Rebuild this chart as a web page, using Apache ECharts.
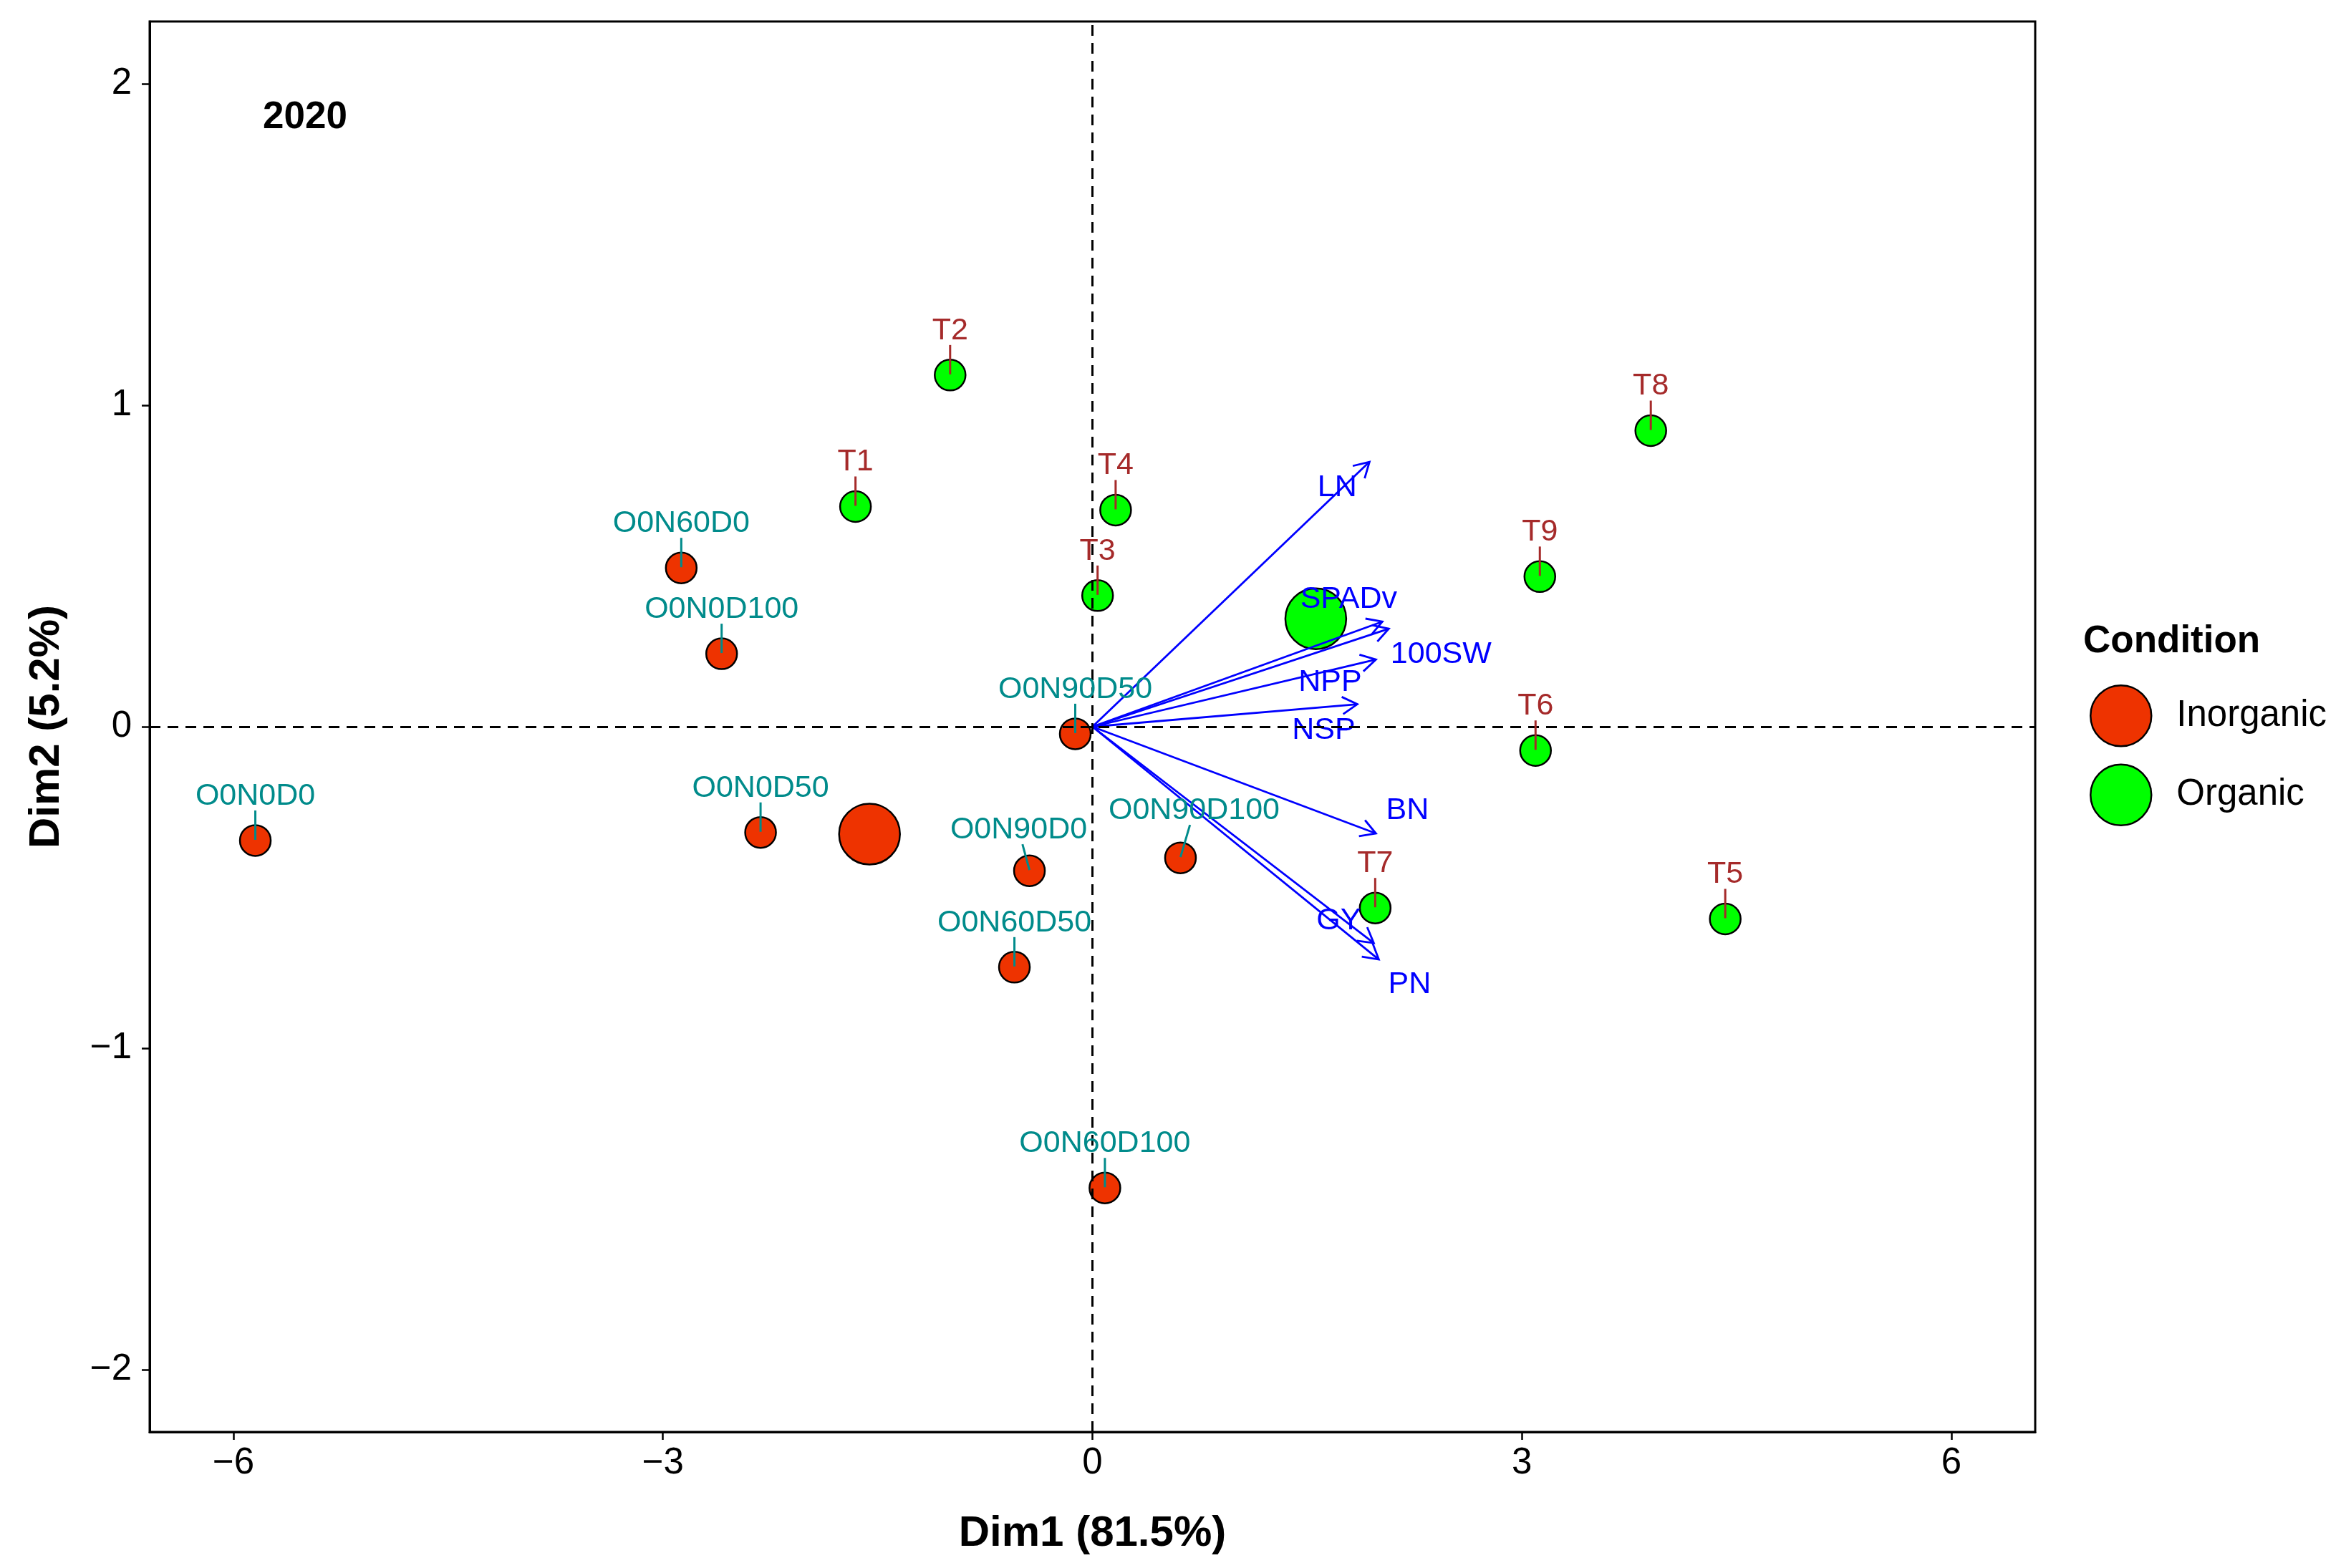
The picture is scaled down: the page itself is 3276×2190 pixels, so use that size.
<!DOCTYPE html>
<html>
<head>
<meta charset="utf-8">
<script src="https://cdn.jsdelivr.net/npm/echarts@6/dist/echarts.min.js"></script>
<style>
html,body{margin:0;padding:0;background:#fff;}
#chart{width:3276px;height:2190px;}
</style>
</head>
<body>
<div id="chart"></div>
<script>
// ---- data ----
const inorgNames = ['O0N0D0','O0N0D50','O0N0D100','O0N60D0','O0N60D50','O0N60D100','O0N90D0','O0N90D50','O0N90D100'];
const inorgX = [-5.847, -2.318, -2.59, -2.872, -0.545, 0.087, -0.44, -0.12, 0.615];
const inorgY = [-0.354, -0.329, 0.227, 0.494, -0.748, -1.435, -0.448, -0.022, -0.408];

const orgNames = ['T1','T2','T3','T4','T5','T6','T7','T8','T9'];
const orgX = [-1.655, -0.994, 0.036, 0.162, 4.42, 3.095, 1.975, 3.90, 3.125];
const orgY = [0.685, 1.094, 0.408, 0.674, -0.598, -0.074, -0.564, 0.921, 0.467];

const groupNames = ['Inorganic','Organic'];
const centroidX = [-1.557, 1.56];
const centroidY = [-0.334, 0.336];

const varNames = ['LN','SPADv','100SW','NPP','NSP','BN','GY','PN'];
const varX = [1.935, 2.025, 2.07, 1.98, 1.85, 1.98, 1.965, 2.0];
const varY = [0.824, 0.327, 0.305, 0.209, 0.07, -0.332, -0.673, -0.724];

const xTicks = [-6, -3, 0, 3, 6];
const yTicks = [-2, -1, 0, 1, 2];

// ---- styles (pixel offsets for labels) ----
const FONT = 'Liberation Sans, Arial, sans-serif';
const varLabelOffset = {LN:[-45,36], SPADv:[-47,-31], '100SW':[73,36], NPP:[-64,32], NSP:[-47,37], BN:[44,-32], GY:[-49,-31], PN:[43,35]};
const pointLabelOffset = {O0N90D0:[-15,-57], O0N90D100:[19,-66]};
const defaultLabelOffset = [0,-62];
const RED = '#EE3300', GREEN = '#00FF00', TEAL = '#008B8B', BROWN = '#A52A2A', BLUE = '#0000FF';

function pointData(xs, ys, cx, cy) {
  const d = xs.map((x, i) => [x, ys[i]]);
  d.push({value: [cx, cy], symbolSize: 85});
  return d;
}

const labelData = [];
inorgNames.forEach((n, i) => labelData.push([inorgX[i], inorgY[i], n, 0]));
orgNames.forEach((n, i) => labelData.push([orgX[i], orgY[i], n, 1]));

const arrowData = varNames.map((n, i) => [varX[i], varY[i], n]);

const chart = echarts.init(document.getElementById('chart'));
const minusFmt = v => String(v).replace('-', '\u2212');

chart.setOption({
  animation: false,
  backgroundColor: '#fff',
  grid: {left: 209, right: 434, top: 30, bottom: 190, show: true, borderColor: '#000', borderWidth: 3, backgroundColor: 'transparent'},
  xAxis: {
    type: 'value', min: -6.585, max: 6.585,
    name: 'Dim1 (81.5%)', nameLocation: 'middle', nameGap: 112,
    nameTextStyle: {fontFamily: FONT, fontSize: 60, fontWeight: 'bold', color: '#000'},
    axisLine: {show: true, onZero: false, lineStyle: {color: '#000', width: 3}},
    axisTick: {show: true, length: 11, lineStyle: {color: '#000', width: 2.5}, customValues: xTicks},
    axisLabel: {fontFamily: FONT, fontSize: 51, color: '#000', margin: 18, customValues: xTicks, formatter: minusFmt},
    splitLine: {show: false}
  },
  yAxis: {
    type: 'value', min: -2.194, max: 2.194,
    name: 'Dim2 (5.2%)', nameLocation: 'middle', nameGap: 114,
    nameTextStyle: {fontFamily: FONT, fontSize: 60, fontWeight: 'bold', color: '#000'},
    axisLine: {show: true, onZero: false, lineStyle: {color: '#000', width: 3}},
    axisTick: {show: true, length: 11, lineStyle: {color: '#000', width: 2.5}, customValues: yTicks},
    axisLabel: {fontFamily: FONT, fontSize: 51, color: '#000', margin: 25, customValues: yTicks, formatter: minusFmt},
    splitLine: {show: false}
  },
  legend: {
    data: groupNames, orient: 'vertical', left: 2913, top: 951,
    itemWidth: 85, itemHeight: 85, itemGap: 23, icon: 'circle',
    itemStyle: {borderColor: '#000', borderWidth: 2.5},
    textStyle: {fontFamily: FONT, fontSize: 51, color: '#000', padding: [0, 0, 0, 30]}
  },
  graphic: [
    {type: 'text', x: 367, y: 164, style: {text: '2020', font: 'bold 53px ' + FONT, fill: '#000', textAlign: 'left', textVerticalAlign: 'middle', align: 'left', verticalAlign: 'middle'}},
    {type: 'text', x: 2909, y: 896, style: {text: 'Condition', font: 'bold 53px ' + FONT, fill: '#000', textAlign: 'left', textVerticalAlign: 'middle', align: 'left', verticalAlign: 'middle'}}
  ],
  series: [
    {
      name: 'Inorganic', type: 'scatter', symbol: 'circle', symbolSize: 43, z: 2,
      itemStyle: {color: RED, borderColor: '#000', borderWidth: 2.5, opacity: 1},
      data: pointData(inorgX, inorgY, centroidX[0], centroidY[0])
    },
    {
      name: 'Organic', type: 'scatter', symbol: 'circle', symbolSize: 43, z: 2,
      itemStyle: {color: GREEN, borderColor: '#000', borderWidth: 2.5, opacity: 1},
      data: pointData(orgX, orgY, centroidX[1], centroidY[1])
    },
    {
      name: 'ref', type: 'line', data: [], z: 3, silent: true,
      markLine: {
        silent: true, symbol: ['none', 'none'], animation: false,
        label: {show: false},
        lineStyle: {color: '#000', type: [15, 10], width: 3},
        data: [{xAxis: 0}, {yAxis: 0}]
      }
    },
    {
      name: 'vars', type: 'custom', z: 4, silent: true,
      data: arrowData,
      renderItem: function (params, api) {
        const s = api.coord([0, 0]);
        const e = api.coord([api.value(0), api.value(1)]);
        const name = arrowData[params.dataIndex][2];
        const th = Math.atan2(e[1] - s[1], e[0] - s[0]);
        const L = 24, a = Math.PI / 6;
        const p1 = [e[0] - L * Math.cos(th - a), e[1] - L * Math.sin(th - a)];
        const p2 = [e[0] - L * Math.cos(th + a), e[1] - L * Math.sin(th + a)];
        const off = varLabelOffset[name] || [0, 0];
        return {
          type: 'group',
          children: [
            {type: 'line', shape: {x1: s[0], y1: s[1], x2: e[0], y2: e[1]}, style: {stroke: BLUE, lineWidth: 2.8}},
            {type: 'polyline', shape: {points: [p1, e, p2]}, style: {stroke: BLUE, lineWidth: 2.8, fill: null}},
            {type: 'text', x: e[0] + off[0], y: e[1] + off[1], style: {text: name, fill: BLUE, font: '43px ' + FONT, textAlign: 'center', textVerticalAlign: 'middle', align: 'center', verticalAlign: 'middle'}}
          ]
        };
      }
    },
    {
      name: 'labels', type: 'custom', z: 5, silent: true,
      data: labelData,
      renderItem: function (params, api) {
        const d = labelData[params.dataIndex];
        const p = api.coord([d[0], d[1]]);
        const off = pointLabelOffset[d[2]] || defaultLabelOffset;
        const col = d[3] === 0 ? TEAL : BROWN;
        const lx = p[0] + off[0], ly = p[1] + off[1];
        const sy = ly + 20;
        const t = (sy - p[1]) / (ly - p[1]);
        const sx = p[0] + (lx - p[0]) * t;
        return {
          type: 'group',
          children: [
            {type: 'line', shape: {x1: sx, y1: sy, x2: p[0], y2: p[1] - 1}, style: {stroke: col, lineWidth: 3}},
            {type: 'text', x: lx, y: ly, style: {text: d[2], fill: col, font: '43px ' + FONT, textAlign: 'center', textVerticalAlign: 'middle', align: 'center', verticalAlign: 'middle'}}
          ]
        };
      }
    }
  ]
});
</script>
</body>
</html>
